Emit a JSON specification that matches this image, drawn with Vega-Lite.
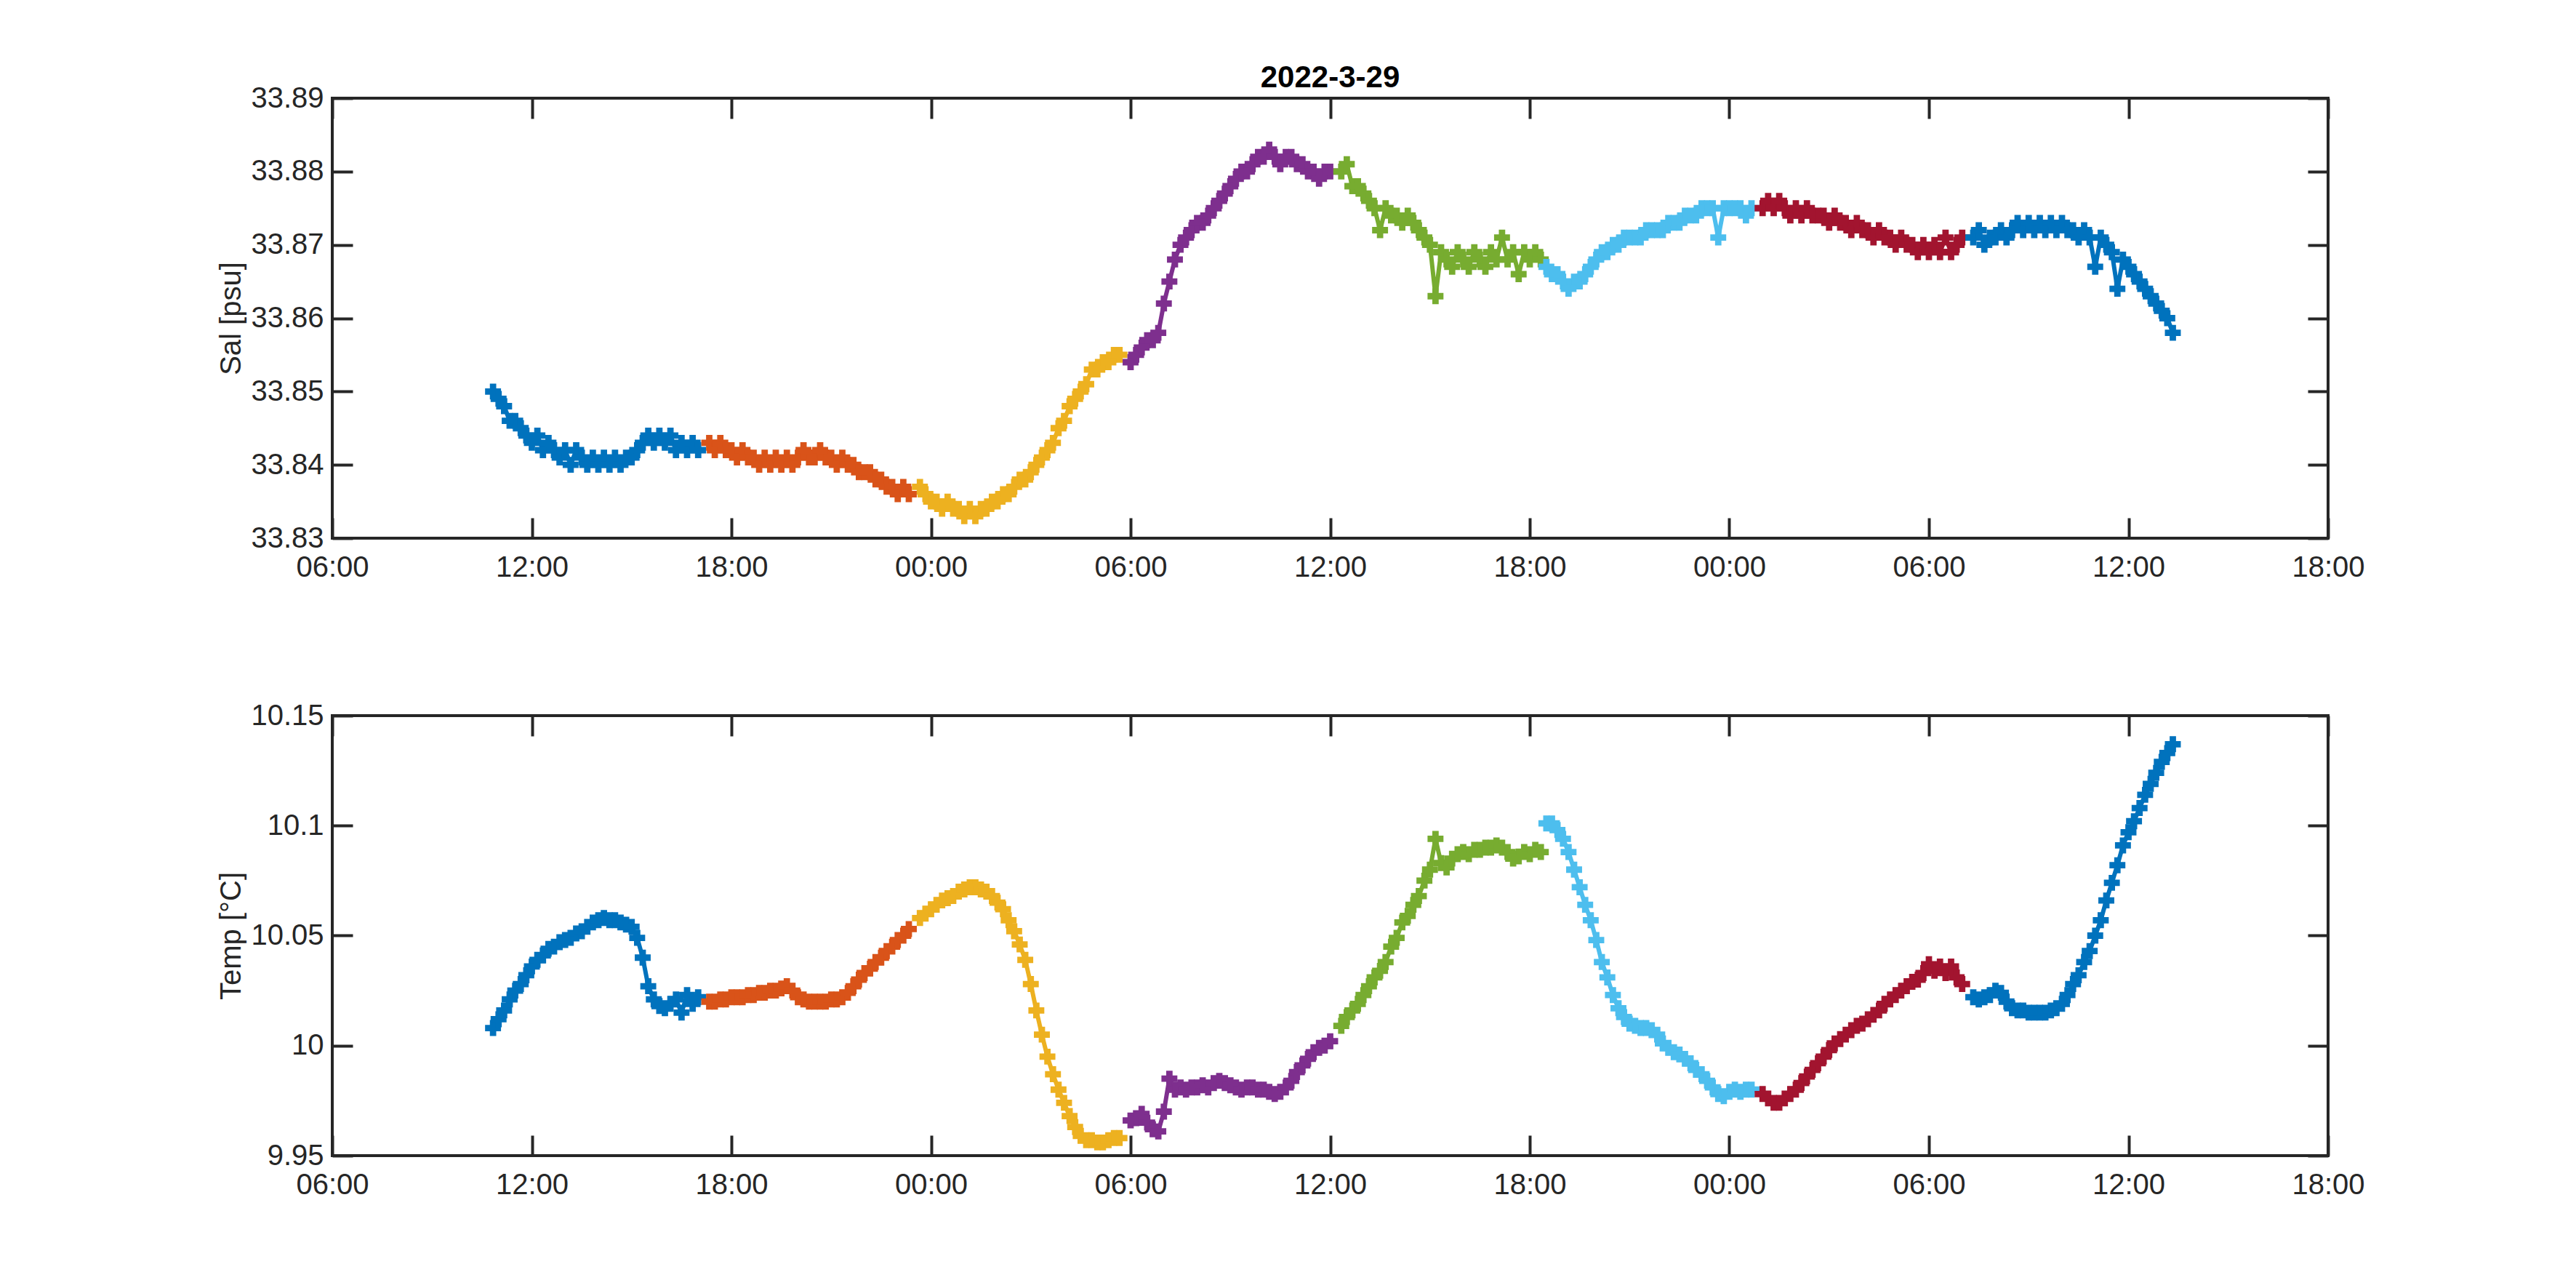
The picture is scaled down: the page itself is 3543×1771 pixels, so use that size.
{
  "$schema": "https://vega.github.io/schema/vega-lite/v6.json",
  "background": "white",
  "padding": {"left": 296, "top": 84, "right": 0, "bottom": 0},
  "data": {
    "values": [
      {"time": "2022-03-29T10:50Z", "seg": 1, "sal": 33.850, "temp": 10.008},
      {"time": "2022-03-29T11:00Z", "seg": 1, "sal": 33.849, "temp": 10.012},
      {"time": "2022-03-29T11:10Z", "seg": 1, "sal": 33.848, "temp": 10.016},
      {"time": "2022-03-29T11:20Z", "seg": 1, "sal": 33.846, "temp": 10.021},
      {"time": "2022-03-29T11:30Z", "seg": 1, "sal": 33.846, "temp": 10.025},
      {"time": "2022-03-29T11:40Z", "seg": 1, "sal": 33.845, "temp": 10.028},
      {"time": "2022-03-29T11:50Z", "seg": 1, "sal": 33.844, "temp": 10.032},
      {"time": "2022-03-29T12:00Z", "seg": 1, "sal": 33.843, "temp": 10.036},
      {"time": "2022-03-29T12:10Z", "seg": 1, "sal": 33.844, "temp": 10.039},
      {"time": "2022-03-29T12:20Z", "seg": 1, "sal": 33.842, "temp": 10.041},
      {"time": "2022-03-29T12:30Z", "seg": 1, "sal": 33.843, "temp": 10.044},
      {"time": "2022-03-29T12:40Z", "seg": 1, "sal": 33.842, "temp": 10.045},
      {"time": "2022-03-29T12:50Z", "seg": 1, "sal": 33.841, "temp": 10.047},
      {"time": "2022-03-29T13:00Z", "seg": 1, "sal": 33.842, "temp": 10.048},
      {"time": "2022-03-29T13:10Z", "seg": 1, "sal": 33.840, "temp": 10.049},
      {"time": "2022-03-29T13:20Z", "seg": 1, "sal": 33.842, "temp": 10.051},
      {"time": "2022-03-29T13:30Z", "seg": 1, "sal": 33.841, "temp": 10.052},
      {"time": "2022-03-29T13:40Z", "seg": 1, "sal": 33.840, "temp": 10.054},
      {"time": "2022-03-29T13:50Z", "seg": 1, "sal": 33.841, "temp": 10.056},
      {"time": "2022-03-29T14:00Z", "seg": 1, "sal": 33.840, "temp": 10.057},
      {"time": "2022-03-29T14:10Z", "seg": 1, "sal": 33.841, "temp": 10.058},
      {"time": "2022-03-29T14:20Z", "seg": 1, "sal": 33.840, "temp": 10.057},
      {"time": "2022-03-29T14:30Z", "seg": 1, "sal": 33.841, "temp": 10.057},
      {"time": "2022-03-29T14:40Z", "seg": 1, "sal": 33.840, "temp": 10.056},
      {"time": "2022-03-29T14:50Z", "seg": 1, "sal": 33.841, "temp": 10.055},
      {"time": "2022-03-29T15:00Z", "seg": 1, "sal": 33.841, "temp": 10.054},
      {"time": "2022-03-29T15:10Z", "seg": 1, "sal": 33.842, "temp": 10.049},
      {"time": "2022-03-29T15:20Z", "seg": 1, "sal": 33.843, "temp": 10.040},
      {"time": "2022-03-29T15:30Z", "seg": 1, "sal": 33.844, "temp": 10.027},
      {"time": "2022-03-29T15:40Z", "seg": 1, "sal": 33.843, "temp": 10.021},
      {"time": "2022-03-29T15:50Z", "seg": 1, "sal": 33.844, "temp": 10.018},
      {"time": "2022-03-29T16:00Z", "seg": 1, "sal": 33.843, "temp": 10.017},
      {"time": "2022-03-29T16:10Z", "seg": 1, "sal": 33.844, "temp": 10.019},
      {"time": "2022-03-29T16:20Z", "seg": 1, "sal": 33.842, "temp": 10.021},
      {"time": "2022-03-29T16:30Z", "seg": 1, "sal": 33.843, "temp": 10.015},
      {"time": "2022-03-29T16:40Z", "seg": 1, "sal": 33.842, "temp": 10.023},
      {"time": "2022-03-29T16:50Z", "seg": 1, "sal": 33.843, "temp": 10.019},
      {"time": "2022-03-29T17:00Z", "seg": 1, "sal": 33.842, "temp": 10.022},
      {"time": "2022-03-29T17:20Z", "seg": 2, "sal": 33.843, "temp": 10.020},
      {"time": "2022-03-29T17:30Z", "seg": 2, "sal": 33.842, "temp": 10.020},
      {"time": "2022-03-29T17:40Z", "seg": 2, "sal": 33.843, "temp": 10.021},
      {"time": "2022-03-29T17:50Z", "seg": 2, "sal": 33.842, "temp": 10.021},
      {"time": "2022-03-29T18:00Z", "seg": 2, "sal": 33.842, "temp": 10.022},
      {"time": "2022-03-29T18:10Z", "seg": 2, "sal": 33.841, "temp": 10.022},
      {"time": "2022-03-29T18:20Z", "seg": 2, "sal": 33.842, "temp": 10.022},
      {"time": "2022-03-29T18:30Z", "seg": 2, "sal": 33.841, "temp": 10.023},
      {"time": "2022-03-29T18:40Z", "seg": 2, "sal": 33.841, "temp": 10.023},
      {"time": "2022-03-29T18:50Z", "seg": 2, "sal": 33.840, "temp": 10.024},
      {"time": "2022-03-29T19:00Z", "seg": 2, "sal": 33.841, "temp": 10.024},
      {"time": "2022-03-29T19:10Z", "seg": 2, "sal": 33.840, "temp": 10.025},
      {"time": "2022-03-29T19:20Z", "seg": 2, "sal": 33.841, "temp": 10.025},
      {"time": "2022-03-29T19:30Z", "seg": 2, "sal": 33.840, "temp": 10.026},
      {"time": "2022-03-29T19:40Z", "seg": 2, "sal": 33.841, "temp": 10.027},
      {"time": "2022-03-29T19:50Z", "seg": 2, "sal": 33.840, "temp": 10.025},
      {"time": "2022-03-29T20:00Z", "seg": 2, "sal": 33.841, "temp": 10.022},
      {"time": "2022-03-29T20:10Z", "seg": 2, "sal": 33.842, "temp": 10.021},
      {"time": "2022-03-29T20:20Z", "seg": 2, "sal": 33.841, "temp": 10.020},
      {"time": "2022-03-29T20:30Z", "seg": 2, "sal": 33.841, "temp": 10.020},
      {"time": "2022-03-29T20:40Z", "seg": 2, "sal": 33.842, "temp": 10.020},
      {"time": "2022-03-29T20:50Z", "seg": 2, "sal": 33.841, "temp": 10.020},
      {"time": "2022-03-29T21:00Z", "seg": 2, "sal": 33.841, "temp": 10.021},
      {"time": "2022-03-29T21:10Z", "seg": 2, "sal": 33.840, "temp": 10.021},
      {"time": "2022-03-29T21:20Z", "seg": 2, "sal": 33.841, "temp": 10.022},
      {"time": "2022-03-29T21:30Z", "seg": 2, "sal": 33.840, "temp": 10.024},
      {"time": "2022-03-29T21:40Z", "seg": 2, "sal": 33.840, "temp": 10.027},
      {"time": "2022-03-29T21:50Z", "seg": 2, "sal": 33.839, "temp": 10.030},
      {"time": "2022-03-29T22:00Z", "seg": 2, "sal": 33.839, "temp": 10.033},
      {"time": "2022-03-29T22:10Z", "seg": 2, "sal": 33.839, "temp": 10.035},
      {"time": "2022-03-29T22:20Z", "seg": 2, "sal": 33.838, "temp": 10.038},
      {"time": "2022-03-29T22:30Z", "seg": 2, "sal": 33.838, "temp": 10.040},
      {"time": "2022-03-29T22:40Z", "seg": 2, "sal": 33.837, "temp": 10.043},
      {"time": "2022-03-29T22:50Z", "seg": 2, "sal": 33.837, "temp": 10.045},
      {"time": "2022-03-29T23:00Z", "seg": 2, "sal": 33.836, "temp": 10.048},
      {"time": "2022-03-29T23:10Z", "seg": 2, "sal": 33.837, "temp": 10.050},
      {"time": "2022-03-29T23:20Z", "seg": 2, "sal": 33.836, "temp": 10.053},
      {"time": "2022-03-29T23:40Z", "seg": 3, "sal": 33.837, "temp": 10.058},
      {"time": "2022-03-29T23:50Z", "seg": 3, "sal": 33.836, "temp": 10.060},
      {"time": "2022-03-30T00:00Z", "seg": 3, "sal": 33.835, "temp": 10.062},
      {"time": "2022-03-30T00:10Z", "seg": 3, "sal": 33.835, "temp": 10.064},
      {"time": "2022-03-30T00:20Z", "seg": 3, "sal": 33.834, "temp": 10.066},
      {"time": "2022-03-30T00:30Z", "seg": 3, "sal": 33.835, "temp": 10.067},
      {"time": "2022-03-30T00:40Z", "seg": 3, "sal": 33.834, "temp": 10.068},
      {"time": "2022-03-30T00:50Z", "seg": 3, "sal": 33.834, "temp": 10.070},
      {"time": "2022-03-30T01:00Z", "seg": 3, "sal": 33.833, "temp": 10.071},
      {"time": "2022-03-30T01:10Z", "seg": 3, "sal": 33.834, "temp": 10.072},
      {"time": "2022-03-30T01:20Z", "seg": 3, "sal": 33.833, "temp": 10.072},
      {"time": "2022-03-30T01:30Z", "seg": 3, "sal": 33.834, "temp": 10.071},
      {"time": "2022-03-30T01:40Z", "seg": 3, "sal": 33.834, "temp": 10.070},
      {"time": "2022-03-30T01:50Z", "seg": 3, "sal": 33.835, "temp": 10.068},
      {"time": "2022-03-30T02:00Z", "seg": 3, "sal": 33.835, "temp": 10.065},
      {"time": "2022-03-30T02:10Z", "seg": 3, "sal": 33.836, "temp": 10.062},
      {"time": "2022-03-30T02:20Z", "seg": 3, "sal": 33.836, "temp": 10.057},
      {"time": "2022-03-30T02:30Z", "seg": 3, "sal": 33.837, "temp": 10.052},
      {"time": "2022-03-30T02:40Z", "seg": 3, "sal": 33.838, "temp": 10.046},
      {"time": "2022-03-30T02:50Z", "seg": 3, "sal": 33.838, "temp": 10.039},
      {"time": "2022-03-30T03:00Z", "seg": 3, "sal": 33.839, "temp": 10.028},
      {"time": "2022-03-30T03:10Z", "seg": 3, "sal": 33.840, "temp": 10.016},
      {"time": "2022-03-30T03:20Z", "seg": 3, "sal": 33.841, "temp": 10.005},
      {"time": "2022-03-30T03:30Z", "seg": 3, "sal": 33.842, "temp": 9.995},
      {"time": "2022-03-30T03:40Z", "seg": 3, "sal": 33.843, "temp": 9.987},
      {"time": "2022-03-30T03:50Z", "seg": 3, "sal": 33.845, "temp": 9.980},
      {"time": "2022-03-30T04:00Z", "seg": 3, "sal": 33.846, "temp": 9.974},
      {"time": "2022-03-30T04:10Z", "seg": 3, "sal": 33.848, "temp": 9.968},
      {"time": "2022-03-30T04:20Z", "seg": 3, "sal": 33.849, "temp": 9.963},
      {"time": "2022-03-30T04:30Z", "seg": 3, "sal": 33.850, "temp": 9.959},
      {"time": "2022-03-30T04:40Z", "seg": 3, "sal": 33.851, "temp": 9.957},
      {"time": "2022-03-30T04:50Z", "seg": 3, "sal": 33.853, "temp": 9.957},
      {"time": "2022-03-30T05:00Z", "seg": 3, "sal": 33.853, "temp": 9.956},
      {"time": "2022-03-30T05:10Z", "seg": 3, "sal": 33.854, "temp": 9.956},
      {"time": "2022-03-30T05:20Z", "seg": 3, "sal": 33.854, "temp": 9.957},
      {"time": "2022-03-30T05:30Z", "seg": 3, "sal": 33.855, "temp": 9.958},
      {"time": "2022-03-30T05:40Z", "seg": 3, "sal": 33.855, "temp": 9.958},
      {"time": "2022-03-30T06:00Z", "seg": 4, "sal": 33.854, "temp": 9.966},
      {"time": "2022-03-30T06:10Z", "seg": 4, "sal": 33.855, "temp": 9.967},
      {"time": "2022-03-30T06:20Z", "seg": 4, "sal": 33.856, "temp": 9.969},
      {"time": "2022-03-30T06:30Z", "seg": 4, "sal": 33.857, "temp": 9.965},
      {"time": "2022-03-30T06:40Z", "seg": 4, "sal": 33.857, "temp": 9.962},
      {"time": "2022-03-30T06:50Z", "seg": 4, "sal": 33.858, "temp": 9.961},
      {"time": "2022-03-30T07:00Z", "seg": 4, "sal": 33.862, "temp": 9.970},
      {"time": "2022-03-30T07:10Z", "seg": 4, "sal": 33.865, "temp": 9.985},
      {"time": "2022-03-30T07:20Z", "seg": 4, "sal": 33.868, "temp": 9.980},
      {"time": "2022-03-30T07:30Z", "seg": 4, "sal": 33.870, "temp": 9.981},
      {"time": "2022-03-30T07:40Z", "seg": 4, "sal": 33.871, "temp": 9.980},
      {"time": "2022-03-30T07:50Z", "seg": 4, "sal": 33.872, "temp": 9.981},
      {"time": "2022-03-30T08:00Z", "seg": 4, "sal": 33.873, "temp": 9.981},
      {"time": "2022-03-30T08:10Z", "seg": 4, "sal": 33.873, "temp": 9.982},
      {"time": "2022-03-30T08:20Z", "seg": 4, "sal": 33.874, "temp": 9.981},
      {"time": "2022-03-30T08:30Z", "seg": 4, "sal": 33.875, "temp": 9.983},
      {"time": "2022-03-30T08:40Z", "seg": 4, "sal": 33.876, "temp": 9.984},
      {"time": "2022-03-30T08:50Z", "seg": 4, "sal": 33.877, "temp": 9.983},
      {"time": "2022-03-30T09:00Z", "seg": 4, "sal": 33.878, "temp": 9.982},
      {"time": "2022-03-30T09:10Z", "seg": 4, "sal": 33.879, "temp": 9.981},
      {"time": "2022-03-30T09:20Z", "seg": 4, "sal": 33.880, "temp": 9.980},
      {"time": "2022-03-30T09:30Z", "seg": 4, "sal": 33.880, "temp": 9.981},
      {"time": "2022-03-30T09:40Z", "seg": 4, "sal": 33.881, "temp": 9.981},
      {"time": "2022-03-30T09:50Z", "seg": 4, "sal": 33.882, "temp": 9.980},
      {"time": "2022-03-30T10:00Z", "seg": 4, "sal": 33.882, "temp": 9.980},
      {"time": "2022-03-30T10:10Z", "seg": 4, "sal": 33.883, "temp": 9.979},
      {"time": "2022-03-30T10:20Z", "seg": 4, "sal": 33.882, "temp": 9.978},
      {"time": "2022-03-30T10:30Z", "seg": 4, "sal": 33.881, "temp": 9.979},
      {"time": "2022-03-30T10:40Z", "seg": 4, "sal": 33.882, "temp": 9.981},
      {"time": "2022-03-30T10:50Z", "seg": 4, "sal": 33.882, "temp": 9.984},
      {"time": "2022-03-30T11:00Z", "seg": 4, "sal": 33.881, "temp": 9.988},
      {"time": "2022-03-30T11:10Z", "seg": 4, "sal": 33.881, "temp": 9.991},
      {"time": "2022-03-30T11:20Z", "seg": 4, "sal": 33.880, "temp": 9.994},
      {"time": "2022-03-30T11:30Z", "seg": 4, "sal": 33.880, "temp": 9.997},
      {"time": "2022-03-30T11:40Z", "seg": 4, "sal": 33.879, "temp": 9.999},
      {"time": "2022-03-30T11:50Z", "seg": 4, "sal": 33.880, "temp": 10.000},
      {"time": "2022-03-30T12:00Z", "seg": 4, "sal": 33.880, "temp": 10.002},
      {"time": "2022-03-30T12:20Z", "seg": 5, "sal": 33.880, "temp": 10.009},
      {"time": "2022-03-30T12:30Z", "seg": 5, "sal": 33.881, "temp": 10.013},
      {"time": "2022-03-30T12:40Z", "seg": 5, "sal": 33.878, "temp": 10.016},
      {"time": "2022-03-30T12:50Z", "seg": 5, "sal": 33.878, "temp": 10.019},
      {"time": "2022-03-30T13:00Z", "seg": 5, "sal": 33.877, "temp": 10.023},
      {"time": "2022-03-30T13:10Z", "seg": 5, "sal": 33.876, "temp": 10.027},
      {"time": "2022-03-30T13:20Z", "seg": 5, "sal": 33.875, "temp": 10.031},
      {"time": "2022-03-30T13:30Z", "seg": 5, "sal": 33.872, "temp": 10.034},
      {"time": "2022-03-30T13:40Z", "seg": 5, "sal": 33.875, "temp": 10.038},
      {"time": "2022-03-30T13:50Z", "seg": 5, "sal": 33.874, "temp": 10.045},
      {"time": "2022-03-30T14:00Z", "seg": 5, "sal": 33.874, "temp": 10.049},
      {"time": "2022-03-30T14:10Z", "seg": 5, "sal": 33.873, "temp": 10.056},
      {"time": "2022-03-30T14:20Z", "seg": 5, "sal": 33.874, "temp": 10.059},
      {"time": "2022-03-30T14:30Z", "seg": 5, "sal": 33.873, "temp": 10.064},
      {"time": "2022-03-30T14:40Z", "seg": 5, "sal": 33.872, "temp": 10.068},
      {"time": "2022-03-30T14:50Z", "seg": 5, "sal": 33.871, "temp": 10.075},
      {"time": "2022-03-30T15:00Z", "seg": 5, "sal": 33.870, "temp": 10.080},
      {"time": "2022-03-30T15:10Z", "seg": 5, "sal": 33.863, "temp": 10.094},
      {"time": "2022-03-30T15:20Z", "seg": 5, "sal": 33.869, "temp": 10.083},
      {"time": "2022-03-30T15:30Z", "seg": 5, "sal": 33.868, "temp": 10.081},
      {"time": "2022-03-30T15:40Z", "seg": 5, "sal": 33.867, "temp": 10.085},
      {"time": "2022-03-30T15:50Z", "seg": 5, "sal": 33.869, "temp": 10.087},
      {"time": "2022-03-30T16:00Z", "seg": 5, "sal": 33.868, "temp": 10.088},
      {"time": "2022-03-30T16:10Z", "seg": 5, "sal": 33.867, "temp": 10.087},
      {"time": "2022-03-30T16:20Z", "seg": 5, "sal": 33.869, "temp": 10.089},
      {"time": "2022-03-30T16:30Z", "seg": 5, "sal": 33.868, "temp": 10.089},
      {"time": "2022-03-30T16:40Z", "seg": 5, "sal": 33.867, "temp": 10.090},
      {"time": "2022-03-30T16:50Z", "seg": 5, "sal": 33.869, "temp": 10.090},
      {"time": "2022-03-30T17:00Z", "seg": 5, "sal": 33.868, "temp": 10.091},
      {"time": "2022-03-30T17:10Z", "seg": 5, "sal": 33.871, "temp": 10.090},
      {"time": "2022-03-30T17:20Z", "seg": 5, "sal": 33.868, "temp": 10.088},
      {"time": "2022-03-30T17:30Z", "seg": 5, "sal": 33.869, "temp": 10.085},
      {"time": "2022-03-30T17:40Z", "seg": 5, "sal": 33.866, "temp": 10.086},
      {"time": "2022-03-30T17:50Z", "seg": 5, "sal": 33.869, "temp": 10.088},
      {"time": "2022-03-30T18:00Z", "seg": 5, "sal": 33.868, "temp": 10.087},
      {"time": "2022-03-30T18:10Z", "seg": 5, "sal": 33.869, "temp": 10.089},
      {"time": "2022-03-30T18:20Z", "seg": 5, "sal": 33.868, "temp": 10.088},
      {"time": "2022-03-30T18:30Z", "seg": 6, "sal": 33.867, "temp": 10.101},
      {"time": "2022-03-30T18:40Z", "seg": 6, "sal": 33.866, "temp": 10.101},
      {"time": "2022-03-30T18:50Z", "seg": 6, "sal": 33.866, "temp": 10.098},
      {"time": "2022-03-30T19:00Z", "seg": 6, "sal": 33.865, "temp": 10.094},
      {"time": "2022-03-30T19:10Z", "seg": 6, "sal": 33.864, "temp": 10.088},
      {"time": "2022-03-30T19:20Z", "seg": 6, "sal": 33.865, "temp": 10.080},
      {"time": "2022-03-30T19:30Z", "seg": 6, "sal": 33.865, "temp": 10.072},
      {"time": "2022-03-30T19:40Z", "seg": 6, "sal": 33.866, "temp": 10.064},
      {"time": "2022-03-30T19:50Z", "seg": 6, "sal": 33.867, "temp": 10.057},
      {"time": "2022-03-30T20:00Z", "seg": 6, "sal": 33.868, "temp": 10.048},
      {"time": "2022-03-30T20:10Z", "seg": 6, "sal": 33.869, "temp": 10.038},
      {"time": "2022-03-30T20:20Z", "seg": 6, "sal": 33.869, "temp": 10.031},
      {"time": "2022-03-30T20:30Z", "seg": 6, "sal": 33.870, "temp": 10.023},
      {"time": "2022-03-30T20:40Z", "seg": 6, "sal": 33.870, "temp": 10.017},
      {"time": "2022-03-30T20:50Z", "seg": 6, "sal": 33.871, "temp": 10.013},
      {"time": "2022-03-30T21:00Z", "seg": 6, "sal": 33.871, "temp": 10.010},
      {"time": "2022-03-30T21:10Z", "seg": 6, "sal": 33.871, "temp": 10.009},
      {"time": "2022-03-30T21:20Z", "seg": 6, "sal": 33.871, "temp": 10.008},
      {"time": "2022-03-30T21:30Z", "seg": 6, "sal": 33.872, "temp": 10.008},
      {"time": "2022-03-30T21:40Z", "seg": 6, "sal": 33.872, "temp": 10.007},
      {"time": "2022-03-30T21:50Z", "seg": 6, "sal": 33.872, "temp": 10.005},
      {"time": "2022-03-30T22:00Z", "seg": 6, "sal": 33.872, "temp": 10.001},
      {"time": "2022-03-30T22:10Z", "seg": 6, "sal": 33.873, "temp": 9.999},
      {"time": "2022-03-30T22:20Z", "seg": 6, "sal": 33.873, "temp": 9.997},
      {"time": "2022-03-30T22:30Z", "seg": 6, "sal": 33.873, "temp": 9.996},
      {"time": "2022-03-30T22:40Z", "seg": 6, "sal": 33.874, "temp": 9.994},
      {"time": "2022-03-30T22:50Z", "seg": 6, "sal": 33.874, "temp": 9.992},
      {"time": "2022-03-30T23:00Z", "seg": 6, "sal": 33.874, "temp": 9.989},
      {"time": "2022-03-30T23:10Z", "seg": 6, "sal": 33.875, "temp": 9.987},
      {"time": "2022-03-30T23:20Z", "seg": 6, "sal": 33.875, "temp": 9.984},
      {"time": "2022-03-30T23:30Z", "seg": 6, "sal": 33.875, "temp": 9.981},
      {"time": "2022-03-30T23:40Z", "seg": 6, "sal": 33.871, "temp": 9.978},
      {"time": "2022-03-30T23:50Z", "seg": 6, "sal": 33.875, "temp": 9.977},
      {"time": "2022-03-31T00:00Z", "seg": 6, "sal": 33.875, "temp": 9.979},
      {"time": "2022-03-31T00:10Z", "seg": 6, "sal": 33.875, "temp": 9.980},
      {"time": "2022-03-31T00:20Z", "seg": 6, "sal": 33.875, "temp": 9.979},
      {"time": "2022-03-31T00:30Z", "seg": 6, "sal": 33.874, "temp": 9.980},
      {"time": "2022-03-31T00:40Z", "seg": 6, "sal": 33.875, "temp": 9.980},
      {"time": "2022-03-31T01:00Z", "seg": 7, "sal": 33.875, "temp": 9.978},
      {"time": "2022-03-31T01:10Z", "seg": 7, "sal": 33.876, "temp": 9.976},
      {"time": "2022-03-31T01:20Z", "seg": 7, "sal": 33.875, "temp": 9.974},
      {"time": "2022-03-31T01:30Z", "seg": 7, "sal": 33.876, "temp": 9.974},
      {"time": "2022-03-31T01:40Z", "seg": 7, "sal": 33.875, "temp": 9.976},
      {"time": "2022-03-31T01:50Z", "seg": 7, "sal": 33.874, "temp": 9.978},
      {"time": "2022-03-31T02:00Z", "seg": 7, "sal": 33.875, "temp": 9.980},
      {"time": "2022-03-31T02:10Z", "seg": 7, "sal": 33.874, "temp": 9.983},
      {"time": "2022-03-31T02:20Z", "seg": 7, "sal": 33.875, "temp": 9.986},
      {"time": "2022-03-31T02:30Z", "seg": 7, "sal": 33.874, "temp": 9.989},
      {"time": "2022-03-31T02:40Z", "seg": 7, "sal": 33.874, "temp": 9.992},
      {"time": "2022-03-31T02:50Z", "seg": 7, "sal": 33.874, "temp": 9.995},
      {"time": "2022-03-31T03:00Z", "seg": 7, "sal": 33.873, "temp": 9.998},
      {"time": "2022-03-31T03:10Z", "seg": 7, "sal": 33.874, "temp": 10.001},
      {"time": "2022-03-31T03:20Z", "seg": 7, "sal": 33.873, "temp": 10.003},
      {"time": "2022-03-31T03:30Z", "seg": 7, "sal": 33.873, "temp": 10.005},
      {"time": "2022-03-31T03:40Z", "seg": 7, "sal": 33.872, "temp": 10.007},
      {"time": "2022-03-31T03:50Z", "seg": 7, "sal": 33.873, "temp": 10.009},
      {"time": "2022-03-31T04:00Z", "seg": 7, "sal": 33.872, "temp": 10.010},
      {"time": "2022-03-31T04:10Z", "seg": 7, "sal": 33.872, "temp": 10.012},
      {"time": "2022-03-31T04:20Z", "seg": 7, "sal": 33.871, "temp": 10.014},
      {"time": "2022-03-31T04:30Z", "seg": 7, "sal": 33.872, "temp": 10.016},
      {"time": "2022-03-31T04:40Z", "seg": 7, "sal": 33.871, "temp": 10.019},
      {"time": "2022-03-31T04:50Z", "seg": 7, "sal": 33.871, "temp": 10.021},
      {"time": "2022-03-31T05:00Z", "seg": 7, "sal": 33.870, "temp": 10.023},
      {"time": "2022-03-31T05:10Z", "seg": 7, "sal": 33.871, "temp": 10.025},
      {"time": "2022-03-31T05:20Z", "seg": 7, "sal": 33.870, "temp": 10.027},
      {"time": "2022-03-31T05:30Z", "seg": 7, "sal": 33.870, "temp": 10.029},
      {"time": "2022-03-31T05:40Z", "seg": 7, "sal": 33.869, "temp": 10.030},
      {"time": "2022-03-31T05:50Z", "seg": 7, "sal": 33.870, "temp": 10.033},
      {"time": "2022-03-31T06:00Z", "seg": 7, "sal": 33.869, "temp": 10.037},
      {"time": "2022-03-31T06:10Z", "seg": 7, "sal": 33.870, "temp": 10.034},
      {"time": "2022-03-31T06:20Z", "seg": 7, "sal": 33.869, "temp": 10.036},
      {"time": "2022-03-31T06:30Z", "seg": 7, "sal": 33.871, "temp": 10.033},
      {"time": "2022-03-31T06:40Z", "seg": 7, "sal": 33.869, "temp": 10.036},
      {"time": "2022-03-31T06:50Z", "seg": 7, "sal": 33.870, "temp": 10.031},
      {"time": "2022-03-31T07:00Z", "seg": 7, "sal": 33.871, "temp": 10.028},
      {"time": "2022-03-31T07:20Z", "seg": 8, "sal": 33.871, "temp": 10.022},
      {"time": "2022-03-31T07:30Z", "seg": 8, "sal": 33.872, "temp": 10.021},
      {"time": "2022-03-31T07:40Z", "seg": 8, "sal": 33.870, "temp": 10.022},
      {"time": "2022-03-31T07:50Z", "seg": 8, "sal": 33.871, "temp": 10.023},
      {"time": "2022-03-31T08:00Z", "seg": 8, "sal": 33.871, "temp": 10.025},
      {"time": "2022-03-31T08:10Z", "seg": 8, "sal": 33.872, "temp": 10.024},
      {"time": "2022-03-31T08:20Z", "seg": 8, "sal": 33.871, "temp": 10.020},
      {"time": "2022-03-31T08:30Z", "seg": 8, "sal": 33.872, "temp": 10.017},
      {"time": "2022-03-31T08:40Z", "seg": 8, "sal": 33.873, "temp": 10.016},
      {"time": "2022-03-31T08:50Z", "seg": 8, "sal": 33.872, "temp": 10.016},
      {"time": "2022-03-31T09:00Z", "seg": 8, "sal": 33.873, "temp": 10.015},
      {"time": "2022-03-31T09:10Z", "seg": 8, "sal": 33.872, "temp": 10.015},
      {"time": "2022-03-31T09:20Z", "seg": 8, "sal": 33.873, "temp": 10.015},
      {"time": "2022-03-31T09:30Z", "seg": 8, "sal": 33.872, "temp": 10.015},
      {"time": "2022-03-31T09:40Z", "seg": 8, "sal": 33.873, "temp": 10.016},
      {"time": "2022-03-31T09:50Z", "seg": 8, "sal": 33.872, "temp": 10.017},
      {"time": "2022-03-31T10:00Z", "seg": 8, "sal": 33.873, "temp": 10.019},
      {"time": "2022-03-31T10:10Z", "seg": 8, "sal": 33.872, "temp": 10.023},
      {"time": "2022-03-31T10:20Z", "seg": 8, "sal": 33.872, "temp": 10.028},
      {"time": "2022-03-31T10:30Z", "seg": 8, "sal": 33.871, "temp": 10.032},
      {"time": "2022-03-31T10:40Z", "seg": 8, "sal": 33.872, "temp": 10.038},
      {"time": "2022-03-31T10:50Z", "seg": 8, "sal": 33.871, "temp": 10.043},
      {"time": "2022-03-31T11:00Z", "seg": 8, "sal": 33.867, "temp": 10.050},
      {"time": "2022-03-31T11:10Z", "seg": 8, "sal": 33.871, "temp": 10.057},
      {"time": "2022-03-31T11:20Z", "seg": 8, "sal": 33.870, "temp": 10.066},
      {"time": "2022-03-31T11:30Z", "seg": 8, "sal": 33.869, "temp": 10.074},
      {"time": "2022-03-31T11:40Z", "seg": 8, "sal": 33.864, "temp": 10.082},
      {"time": "2022-03-31T11:50Z", "seg": 8, "sal": 33.868, "temp": 10.091},
      {"time": "2022-03-31T12:00Z", "seg": 8, "sal": 33.867, "temp": 10.097},
      {"time": "2022-03-31T12:10Z", "seg": 8, "sal": 33.866, "temp": 10.102},
      {"time": "2022-03-31T12:20Z", "seg": 8, "sal": 33.865, "temp": 10.108},
      {"time": "2022-03-31T12:30Z", "seg": 8, "sal": 33.864, "temp": 10.114},
      {"time": "2022-03-31T12:40Z", "seg": 8, "sal": 33.863, "temp": 10.119},
      {"time": "2022-03-31T12:50Z", "seg": 8, "sal": 33.862, "temp": 10.124},
      {"time": "2022-03-31T13:00Z", "seg": 8, "sal": 33.861, "temp": 10.129},
      {"time": "2022-03-31T13:10Z", "seg": 8, "sal": 33.860, "temp": 10.133},
      {"time": "2022-03-31T13:20Z", "seg": 8, "sal": 33.858, "temp": 10.137}
    ]
  },
  "spacing": 160,
  "vconcat": [
    {
      "width": 2745,
      "height": 605,
      "title": {
        "text": "2022-3-29",
        "fontSize": 42,
        "fontWeight": "bold",
        "color": "#000000",
        "anchor": "middle",
        "offset": -14
      },
      "layer": [
        {
          "mark": {"type": "line", "strokeWidth": 6},
          "encoding": {
            "x": {
              "field": "time",
              "type": "temporal",
              "scale": {"type": "utc", "domain": [1648533600000, 1648749600000], "nice": false},
              "axis": {"format": "%H:%M", "tickCount": 10, "title": null}
            },
            "y": {
              "field": "sal",
              "type": "quantitative",
              "scale": {"domain": [33.83, 33.89], "zero": false, "nice": false},
              "axis": {
                "values": [33.83, 33.84, 33.85, 33.86, 33.87, 33.88, 33.89],
                "format": ".2f",
                "title": "Sal [psu]"
              }
            },
            "color": {
              "field": "seg",
              "type": "nominal",
              "scale": {
                "domain": [1, 2, 3, 4, 5, 6, 7, 8],
                "range": ["#0072BD", "#D95319", "#EDB120", "#7E2F8E", "#77AC30", "#4DBEEE", "#A2142F", "#0072BD"]
              },
              "legend": null
            }
          }
        },
        {
          "mark": {"type": "point", "shape": "cross", "filled": true, "size": 480, "opacity": 1},
          "encoding": {
            "x": {
              "field": "time",
              "type": "temporal",
              "axis": {"orient": "top", "labels": false, "tickCount": 10, "title": null}
            },
            "y": {
              "field": "sal",
              "type": "quantitative",
              "axis": {
                "orient": "right",
                "labels": false,
                "values": [33.83, 33.84, 33.85, 33.86, 33.87, 33.88, 33.89],
                "title": null
              }
            },
            "color": {"field": "seg", "type": "nominal", "legend": null}
          }
        }
      ],
      "resolve": {"axis": {"x": "independent", "y": "independent"}}
    },
    {
      "width": 2745,
      "height": 605,
      "layer": [
        {
          "mark": {"type": "line", "strokeWidth": 6},
          "encoding": {
            "x": {
              "field": "time",
              "type": "temporal",
              "scale": {"type": "utc", "domain": [1648533600000, 1648749600000], "nice": false},
              "axis": {"format": "%H:%M", "tickCount": 10, "title": null}
            },
            "y": {
              "field": "temp",
              "type": "quantitative",
              "scale": {"domain": [9.95, 10.15], "zero": false, "nice": false},
              "axis": {
                "values": [9.95, 10, 10.05, 10.1, 10.15],
                "format": ".2~f",
                "title": "Temp [°C]"
              }
            },
            "color": {
              "field": "seg",
              "type": "nominal",
              "scale": {
                "domain": [1, 2, 3, 4, 5, 6, 7, 8],
                "range": ["#0072BD", "#D95319", "#EDB120", "#7E2F8E", "#77AC30", "#4DBEEE", "#A2142F", "#0072BD"]
              },
              "legend": null
            }
          }
        },
        {
          "mark": {"type": "point", "shape": "cross", "filled": true, "size": 480, "opacity": 1},
          "encoding": {
            "x": {
              "field": "time",
              "type": "temporal",
              "axis": {"orient": "top", "labels": false, "tickCount": 10, "title": null}
            },
            "y": {
              "field": "temp",
              "type": "quantitative",
              "axis": {
                "orient": "right",
                "labels": false,
                "values": [9.95, 10, 10.05, 10.1, 10.15],
                "title": null
              }
            },
            "color": {"field": "seg", "type": "nominal", "legend": null}
          }
        }
      ],
      "resolve": {"axis": {"x": "independent", "y": "independent"}}
    }
  ],
  "config": {
    "view": {"stroke": "#262626", "strokeWidth": 4},
    "font": "Liberation Sans",
    "axis": {
      "grid": false,
      "domain": false,
      "offset": -28,
      "labelFlush": false,
      "tickColor": "#262626",
      "tickWidth": 4,
      "tickSize": 28,
      "labelFontSize": 40,
      "labelColor": "#262626",
      "titleFontSize": 40,
      "titleFontWeight": "normal",
      "titleColor": "#262626",
      "titlePadding": 6
    },
    "axisX": {"labelPadding": 20},
    "axisY": {"labelPadding": 12}
  }
}
